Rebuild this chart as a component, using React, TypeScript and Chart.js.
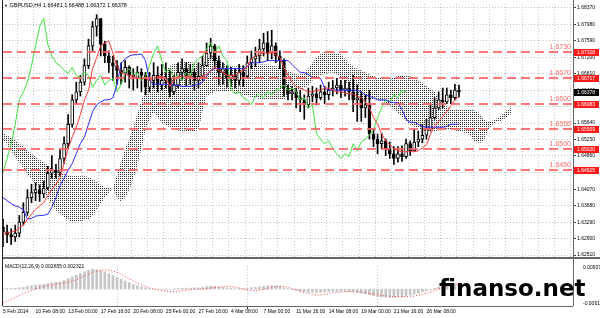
import React, { useEffect, useRef } from "react";
import { Chart, registerables } from "chart.js";

Chart.register(...registerables);

const FONT = "'Liberation Sans', Arial, sans-serif";

// ---- categories ----
const dateLabels = [
  "5 Feb 2014", "10 Feb 08:00", "13 Feb 00:00", "17 Feb 16:00", "20 Feb 08:00",
  "25 Feb 00:00", "27 Feb 16:00", "4 Mar 08:00", "7 Mar 00:00", "11 Mar 16:00",
  "14 Mar 08:00", "19 Mar 00:00", "21 Mar 16:00", "26 Mar 08:00",
];
const SLOT_COUNT = 141;
const LABEL_EVERY = 8;
const GRID_EVERY = 4;
const CHIKOU_SHIFT = 13;

// ---- price series (GBPUSD) ----
const firstOpen = 1.6317;
const closes = [
  1.6306, 1.6299, 1.6294, 1.6303, 1.6329, 1.6352, 1.6387, 1.6399, 1.6406, 1.6396,
  1.6410, 1.6445, 1.6452, 1.6447, 1.6480, 1.6515, 1.6561, 1.6619, 1.6638, 1.6661,
  1.6700, 1.6747, 1.6793, 1.6812, 1.6751, 1.6723, 1.6707, 1.6700, 1.6689, 1.6682,
  1.6696, 1.6677, 1.6672, 1.6684, 1.6677, 1.6649, 1.6665, 1.6677, 1.6654, 1.6665,
  1.6670, 1.6638, 1.6654, 1.6684, 1.6693, 1.6677, 1.6684, 1.6665, 1.6675, 1.6700,
  1.6730, 1.6747, 1.6712, 1.6684, 1.6693, 1.6670, 1.6677, 1.6665, 1.6684, 1.6675,
  1.6707, 1.6716, 1.6723, 1.6740, 1.6754, 1.6730, 1.6747, 1.6723, 1.6712, 1.6647,
  1.6633, 1.6638, 1.6624, 1.6619, 1.6607, 1.6628, 1.6633, 1.6624, 1.6638, 1.6631,
  1.6642, 1.6647, 1.6654, 1.6642, 1.6647, 1.6638, 1.6619, 1.6624, 1.6600, 1.6607,
  1.6538, 1.6526, 1.6515, 1.6522, 1.6503, 1.6491, 1.6480, 1.6491, 1.6484, 1.6515,
  1.6498, 1.6519, 1.6526, 1.6535, 1.6549, 1.6577, 1.6600, 1.6619, 1.6614, 1.6631,
  1.6624, 1.6642, 1.6638,
];
const highs = [
  1.6336, 1.6322, 1.6313, 1.6322, 1.6345, 1.6375, 1.6406, 1.6419, 1.6422, 1.6417,
  1.6426, 1.6461, 1.6487, 1.6466, 1.6503, 1.6531, 1.6584, 1.6631, 1.6661, 1.6677,
  1.6716, 1.6763, 1.6805, 1.6821, 1.6805, 1.6758, 1.6735, 1.6723, 1.6712, 1.6707,
  1.6712, 1.6700, 1.6693, 1.6698, 1.6693, 1.6684, 1.6684, 1.6707, 1.6698, 1.6703,
  1.6707, 1.6689, 1.6677, 1.6707, 1.6716, 1.6707, 1.6703, 1.6693, 1.6707, 1.6723,
  1.6754, 1.6765, 1.6751, 1.6723, 1.6707, 1.6700, 1.6696, 1.6693, 1.6703, 1.6700,
  1.6723, 1.6735, 1.6744, 1.6763, 1.6777, 1.6781, 1.6784, 1.6754, 1.6735, 1.6716,
  1.6654, 1.6651, 1.6647, 1.6642, 1.6631, 1.6647, 1.6651, 1.6647, 1.6654, 1.6651,
  1.6661, 1.6665, 1.6670, 1.6665, 1.6665, 1.6661, 1.6677, 1.6654, 1.6638, 1.6631,
  1.6642, 1.6549, 1.6538, 1.6540, 1.6526, 1.6519, 1.6508, 1.6508, 1.6510, 1.6526,
  1.6522, 1.6549, 1.6545, 1.6561, 1.6573, 1.6607, 1.6624, 1.6638, 1.6647, 1.6647,
  1.6642, 1.6656, 1.6654,
];
const lows = [
  1.6271, 1.6280, 1.6276, 1.6283, 1.6294, 1.6322, 1.6345, 1.6375, 1.6380, 1.6378,
  1.6387, 1.6406, 1.6433, 1.6433, 1.6438, 1.6468, 1.6503, 1.6554, 1.6610, 1.6628,
  1.6654, 1.6693, 1.6735, 1.6770, 1.6723, 1.6707, 1.6684, 1.6665, 1.6656, 1.6656,
  1.6661, 1.6647, 1.6642, 1.6647, 1.6638, 1.6631, 1.6638, 1.6647, 1.6638, 1.6642,
  1.6647, 1.6626, 1.6631, 1.6647, 1.6665, 1.6651, 1.6656, 1.6642, 1.6647, 1.6665,
  1.6698, 1.6716, 1.6693, 1.6654, 1.6656, 1.6649, 1.6651, 1.6647, 1.6654, 1.6651,
  1.6670, 1.6693, 1.6698, 1.6707, 1.6723, 1.6712, 1.6716, 1.6707, 1.6693, 1.6628,
  1.6619, 1.6619, 1.6600, 1.6591, 1.6573, 1.6600, 1.6614, 1.6607, 1.6619, 1.6610,
  1.6619, 1.6628, 1.6633, 1.6624, 1.6628, 1.6619, 1.6591, 1.6568, 1.6568, 1.6577,
  1.6526, 1.6508, 1.6491, 1.6503, 1.6487, 1.6480, 1.6466, 1.6471, 1.6473, 1.6480,
  1.6487, 1.6498, 1.6508, 1.6517, 1.6526, 1.6545, 1.6573, 1.6596, 1.6600, 1.6610,
  1.6610, 1.6619, 1.6626,
];

// ---- Ichimoku ----
const tenkan = [
  1.6301, 1.6303, 1.6306, 1.6308, 1.6315, 1.6322, 1.6336, 1.6348, 1.6359, 1.6368,
  1.6375, 1.6392, 1.6406, 1.6419, 1.6433, 1.6468, 1.6503, 1.6531, 1.6554, 1.6584,
  1.6619, 1.6642, 1.6693, 1.6719, 1.6747, 1.6754, 1.6758, 1.6730, 1.6698, 1.6684,
  1.6679, 1.6677, 1.6675, 1.6670, 1.6670, 1.6670, 1.6665, 1.6670, 1.6675, 1.6675,
  1.6670, 1.6651, 1.6665, 1.6675, 1.6675, 1.6675, 1.6675, 1.6670, 1.6670, 1.6675,
  1.6679, 1.6689, 1.6696, 1.6689, 1.6684, 1.6677, 1.6677, 1.6677, 1.6684, 1.6689,
  1.6698, 1.6716, 1.6723, 1.6728, 1.6730, 1.6730, 1.6730, 1.6726, 1.6719, 1.6696,
  1.6677, 1.6661, 1.6651, 1.6647, 1.6642, 1.6638, 1.6638, 1.6642, 1.6642, 1.6647,
  1.6647, 1.6642, 1.6638, 1.6638, 1.6635, 1.6633, 1.6633, 1.6628, 1.6624, 1.6614,
  1.6600, 1.6577, 1.6561, 1.6538, 1.6522, 1.6512, 1.6503, 1.6498, 1.6496, 1.6496,
  1.6496, 1.6496, 1.6498, 1.6505, 1.6512, 1.6538, 1.6556, 1.6568, 1.6580, 1.6591,
  1.6605, 1.6619, 1.6626,
];
const kijun = [
  1.6387, 1.6380, 1.6373, 1.6368, 1.6364, 1.6359, 1.6336, 1.6338, 1.6343, 1.6345,
  1.6345, 1.6348, 1.6364, 1.6387, 1.6415, 1.6433, 1.6452, 1.6468, 1.6491, 1.6515,
  1.6531, 1.6561, 1.6591, 1.6607, 1.6614, 1.6619, 1.6619, 1.6624, 1.6654, 1.6705,
  1.6716, 1.6723, 1.6726, 1.6726, 1.6728, 1.6712, 1.6665, 1.6656, 1.6656, 1.6656,
  1.6656, 1.6654, 1.6654, 1.6654, 1.6651, 1.6651, 1.6651, 1.6654, 1.6656, 1.6661,
  1.6675, 1.6689, 1.6693, 1.6693, 1.6693, 1.6693, 1.6693, 1.6693, 1.6693, 1.6693,
  1.6698, 1.6707, 1.6707, 1.6707, 1.6709, 1.6712, 1.6712, 1.6712, 1.6712, 1.6712,
  1.6712, 1.6703, 1.6693, 1.6684, 1.6684, 1.6679, 1.6672, 1.6672, 1.6670, 1.6647,
  1.6642, 1.6642, 1.6642, 1.6642, 1.6642, 1.6642, 1.6642, 1.6642, 1.6638, 1.6631,
  1.6628, 1.6624, 1.6619, 1.6619, 1.6619, 1.6614, 1.6612, 1.6612, 1.6596, 1.6573,
  1.6566, 1.6566, 1.6561, 1.6556, 1.6554, 1.6554, 1.6554, 1.6554, 1.6554, 1.6556,
  1.6561, 1.6561, 1.6561,
];
const spanA = [
  1.6542, 1.6535, 1.6529, 1.6522, 1.6515, 1.6508, 1.6498, 1.6491, 1.6484, 1.6477,
  1.6471, 1.6464, 1.6457, 1.6452, 1.6447, 1.6443, 1.6440, 1.6438, 1.6438, 1.6438,
  1.6438, 1.6436, 1.6431, 1.6424, 1.6417, 1.6412, 1.6410, 1.6408,
  1.6440, 1.6473, 1.6503, 1.6526, 1.6554, 1.6584, 1.6619, 1.6647, 1.6661, 1.6670,
  1.6677, 1.6684, 1.6689, 1.6698, 1.6705, 1.6707, 1.6709, 1.6712, 1.6709, 1.6707,
  1.6707,
  1.6707, 1.6716, 1.6723, 1.6723, 1.6716, 1.6707, 1.6700, 1.6698, 1.6698, 1.6698,
  1.6698, 1.6698, 1.6703, 1.6703, 1.6703, 1.6703, 1.6703, 1.6700, 1.6698, 1.6698,
  1.6693,
  1.6689, 1.6684, 1.6679, 1.6679, 1.6684, 1.6693, 1.6707, 1.6719, 1.6728, 1.6735,
  1.6735, 1.6733, 1.6730, 1.6726, 1.6716, 1.6705, 1.6698, 1.6693, 1.6689, 1.6684,
  1.6679, 1.6675, 1.6672, 1.6670, 1.6670, 1.6670, 1.6672, 1.6675, 1.6677, 1.6677,
  1.6675, 1.6670, 1.6665, 1.6658, 1.6651, 1.6645, 1.6638, 1.6624, 1.6612, 1.6603,
  1.6596, 1.6596, 1.6596, 1.6596, 1.6596, 1.6596, 1.6593, 1.6587, 1.6573, 1.6566,
  1.6568, 1.6573, 1.6580, 1.6587, 1.6596, 1.6600,
];
const spanB = [
  1.6526, 1.6512, 1.6498, 1.6484, 1.6471, 1.6457, 1.6443, 1.6431, 1.6419, 1.6410,
  1.6401, 1.6387, 1.6371, 1.6357, 1.6348, 1.6341, 1.6334, 1.6329, 1.6329, 1.6331,
  1.6334, 1.6336, 1.6345, 1.6359, 1.6373, 1.6387, 1.6399, 1.6408,
  1.6387, 1.6378, 1.6387, 1.6406, 1.6433, 1.6464, 1.6503, 1.6549, 1.6573, 1.6591,
  1.6577, 1.6566, 1.6559, 1.6554, 1.6549, 1.6547, 1.6542, 1.6542, 1.6542, 1.6545,
  1.6549,
  1.6591, 1.6628, 1.6633, 1.6638, 1.6638, 1.6638, 1.6638, 1.6638, 1.6635, 1.6633,
  1.6631, 1.6628, 1.6626, 1.6624, 1.6621, 1.6621, 1.6619, 1.6619, 1.6619, 1.6619,
  1.6619,
  1.6631, 1.6638, 1.6642, 1.6642, 1.6647, 1.6654, 1.6665, 1.6672, 1.6677, 1.6682,
  1.6684, 1.6684, 1.6679, 1.6670, 1.6661, 1.6651, 1.6638, 1.6626, 1.6619, 1.6619,
  1.6619, 1.6619, 1.6619, 1.6614, 1.6610, 1.6605, 1.6596, 1.6587, 1.6577, 1.6568,
  1.6561, 1.6556, 1.6552, 1.6547, 1.6542, 1.6542, 1.6545, 1.6547, 1.6549, 1.6549,
  1.6549, 1.6547, 1.6545, 1.6542, 1.6540, 1.6531, 1.6519, 1.6517, 1.6519, 1.6545,
  1.6559, 1.6566, 1.6568, 1.6573, 1.6580, 1.6587,
];

// ---- MACD(12,26,9) ----
const macdMain = [
  0.0003, 0.0004, 0.0004, 0.0005, 0.0006, 0.0008, 0.0012, 0.0015, 0.0018, 0.0020,
  0.0022, 0.0025, 0.0028, 0.0030, 0.0032, 0.0038, 0.0046, 0.0055, 0.0062, 0.0068,
  0.0076, 0.0083, 0.0088, 0.0086, 0.0082, 0.0076, 0.0068, 0.0060, 0.0052, 0.0044,
  0.0036, 0.0028, 0.0021, 0.0015, 0.0010, 0.0006, 0.0003, 0.0001, 0.0000, -0.0001,
  -0.0001, 0.0000, 0.0002, 0.0003, 0.0004, 0.0004, 0.0005, 0.0006, 0.0006, 0.0008,
  0.0012, 0.0014, 0.0013, 0.0010, 0.0008, 0.0006, 0.0004, 0.0002, 0.0002, 0.0002,
  0.0004, 0.0006, 0.0008, 0.0010, 0.0013, 0.0015, 0.0016, 0.0015, 0.0012, 0.0006,
  0.0002, -0.0002, -0.0006, -0.0009, -0.0012, -0.0013, -0.0014, -0.0014, -0.0013, -0.0012,
  -0.0011, -0.0010, -0.0009, -0.0009, -0.0009, -0.0010, -0.0012, -0.0015, -0.0018, -0.0021,
  -0.0025, -0.0029, -0.0032, -0.0034, -0.0035, -0.0036, -0.0036, -0.0035, -0.0033, -0.0030,
  -0.0026, -0.0022, -0.0017, -0.0012, -0.0006, -0.0001, 0.0004, 0.0009, 0.0013, 0.0017,
  0.0021, 0.0024, 0.0027,
];
const macdSignal = [
  -0.0060, -0.0052, -0.0044, -0.0036, -0.0028, -0.0020, -0.0012, -0.0005, 0.0001, 0.0007,
  0.0012, 0.0016, 0.0019, 0.0022, 0.0025, 0.0028, 0.0031, 0.0036, 0.0042, 0.0050,
  0.0058, 0.0066, 0.0073, 0.0079, 0.0083, 0.0085, 0.0084, 0.0080, 0.0074, 0.0066,
  0.0056, 0.0046, 0.0036, 0.0027, 0.0019, 0.0012, 0.0006, 0.0001, -0.0003, -0.0006,
  -0.0008, -0.0010, -0.0010, -0.0009, -0.0007, -0.0005, -0.0003, -0.0001, 0.0000, 0.0001,
  0.0003, 0.0005, 0.0007, 0.0009, 0.0011, 0.0013, 0.0012, 0.0009, 0.0005, 0.0001,
  -0.0003, -0.0006, -0.0006, -0.0004, -0.0001, 0.0003, 0.0007, 0.0011, 0.0013, 0.0012,
  0.0008, 0.0003, -0.0002, -0.0008, -0.0014, -0.0019, -0.0023, -0.0026, -0.0025, -0.0022,
  -0.0019, -0.0016, -0.0014, -0.0012, -0.0011, -0.0010, -0.0010, -0.0011, -0.0013, -0.0016,
  -0.0019, -0.0022, -0.0025, -0.0028, -0.0030, -0.0032, -0.0033, -0.0033, -0.0033, -0.0033,
  -0.0032, -0.0030, -0.0027, -0.0023, -0.0018, -0.0012, -0.0006, 0.0000, 0.0006, 0.0011,
  0.0016, 0.0020, 0.0023,
];

// ---- axis ticks & levels ----
const priceTicks = [
  1.6251, 1.629, 1.6329, 1.6368, 1.6407, 1.6446, 1.6486, 1.6525,
  1.6564, 1.6603, 1.6642, 1.6681, 1.672, 1.6759, 1.6798, 1.6837,
];
const priceMin = 1.62463;
const priceMax = 1.68463;
const macdTicks = [-0.006161, 0.009377];
const macdMin = -0.0074;
const macdMax = 0.0102;
const levelValues = [1.67328, 1.66717, 1.66083, 1.65509, 1.6502, 1.64525];
const levelLabels = ["1.6730", "1.6670", "1.6600", "1.6555", "1.6500", "1.6450"];
const lastPrice = 1.66378;
const titleText = "GBPUSD,H4 1.66481 1.66488 1.66372 1.66378";
const macdText = "MACD(12,26,9) 0.002655 0.002321";

function padTo<T>(arr: T[], n: number): (T | null)[] {
  const out: (T | null)[] = arr.slice();
  while (out.length < n) out.push(null);
  return out;
}

const categories: string[] = Array.from({ length: SLOT_COUNT }, (_, k) =>
  k % LABEL_EVERY === 0 && k / LABEL_EVERY < dateLabels.length ? dateLabels[k / LABEL_EVERY] : ""
);

const gridColor = (ctx: any) =>
  ctx.index % GRID_EVERY === 0 ? "#c4c4c4" : "rgba(0,0,0,0)";

const mainPlugin = {
  id: "mainPlugin",
  afterDatasetsDraw(chart: any) {
    const { ctx, chartArea: a, scales } = chart;
    const y = scales.y;
    ctx.save();
    levelValues.forEach((v, i) => {
      const py = Math.round(y.getPixelForValue(v));
      ctx.strokeStyle = "rgba(255,95,95,0.85)";
      ctx.lineWidth = 2;
      ctx.setLineDash([9, 5]);
      ctx.beginPath();
      ctx.moveTo(a.left, py);
      ctx.lineTo(a.right, py);
      ctx.stroke();
      ctx.setLineDash([]);
      ctx.fillStyle = "#ff6a6a";
      ctx.font = "7px " + FONT;
      ctx.textAlign = "right";
      ctx.textBaseline = "alphabetic";
      ctx.fillText(levelLabels[i], a.right - 2, py - 3);
    });
    ctx.restore();
  },
  afterDraw(chart: any) {
    const { ctx, chartArea: a, scales } = chart;
    const y = scales.y;
    ctx.save();
    ctx.strokeStyle = "#222";
    ctx.lineWidth = 1;
    ctx.beginPath();
    ctx.moveTo(a.left - 0.5, 0);
    ctx.lineTo(a.left - 0.5, chart.height);
    ctx.stroke();
    ctx.strokeStyle = "#666";
    ctx.beginPath();
    ctx.moveTo(a.right + 0.5, 0);
    ctx.lineTo(a.right + 0.5, chart.height);
    ctx.stroke();
    ctx.lineWidth = 2;
    ctx.beginPath();
    ctx.moveTo(a.left, a.bottom + 1);
    ctx.lineTo(chart.width, a.bottom + 1);
    ctx.stroke();
    ctx.font = "5px " + FONT;
    ctx.textAlign = "left";
    ctx.textBaseline = "middle";
    levelValues.forEach((v) => {
      const py = Math.round(y.getPixelForValue(v));
      ctx.fillStyle = "#ff1a1a";
      ctx.fillRect(a.right + 1, py - 3, 25, 7);
      ctx.fillStyle = "#fff";
      ctx.fillText(v.toFixed(5), a.right + 4, py + 0.5);
    });
    const lp = Math.round(y.getPixelForValue(lastPrice));
    ctx.fillStyle = "#000";
    ctx.fillRect(a.right + 1, lp - 3, 25, 7);
    ctx.fillStyle = "#fff";
    ctx.fillText(lastPrice.toFixed(5), a.right + 4, lp + 0.5);
    ctx.restore();
  },
};

const macdPlugin = {
  id: "macdPlugin",
  afterDraw(chart: any) {
    const { ctx, chartArea: a } = chart;
    ctx.save();
    ctx.strokeStyle = "#222";
    ctx.lineWidth = 1;
    ctx.beginPath();
    ctx.moveTo(a.left - 0.5, 0);
    ctx.lineTo(a.left - 0.5, a.bottom);
    ctx.stroke();
    ctx.strokeStyle = "#666";
    ctx.beginPath();
    ctx.moveTo(a.right + 0.5, 0);
    ctx.lineTo(a.right + 0.5, a.bottom);
    ctx.moveTo(a.left, a.bottom + 0.5);
    ctx.lineTo(a.right, a.bottom + 0.5);
    ctx.stroke();
    ctx.restore();
  },
};

export default function App() {
  const mainRef = useRef<HTMLCanvasElement>(null);
  const macdRef = useRef<HTMLCanvasElement>(null);

  useEffect(() => {
    Chart.defaults.font.family = FONT;
    Chart.defaults.font.size = 5;
    Chart.defaults.color = "#000";

    const mainCanvas = mainRef.current!;
    const mctx = mainCanvas.getContext("2d")!;
    const tile = document.createElement("canvas");
    tile.width = 2;
    tile.height = 2;
    const tctx = tile.getContext("2d")!;
    tctx.fillStyle = "#303030";
    tctx.fillRect(0, 0, 1, 1);
    const dots = mctx.createPattern(tile, "repeat");

    const opens = closes.map((c, k) => (k === 0 ? firstOpen : closes[k - 1]));
    const wicks = closes.map((c, k) => [
      Math.min(lows[k], opens[k], c),
      Math.max(highs[k], opens[k], c),
    ]);
    const bodies = closes.map((c, k) => {
      const o = opens[k];
      return Math.abs(c - o) < 0.00004 ? [o - 0.00002, o + 0.00002] : [o, c];
    });
    const bodyColors = closes.map((c, k) => (c >= opens[k] ? "#ffffff" : "#000000"));
    const chikou = closes.map((_, k) => (k + CHIKOU_SHIFT < closes.length ? closes[k + CHIKOU_SHIFT] : null));

    const lineBase = { type: "line", pointRadius: 0, borderWidth: 1, tension: 0, fill: false, spanGaps: false };

    const main = new Chart(mainCanvas, {
      type: "bar",
      data: {
        labels: categories,
        datasets: [
          { ...lineBase, label: "Senkou A", data: padTo(spanA, SLOT_COUNT), borderWidth: 0, borderColor: "rgba(0,0,0,0)", backgroundColor: dots, fill: "+1", order: 20 },
          { ...lineBase, label: "Senkou B", data: padTo(spanB, SLOT_COUNT), borderWidth: 0, borderColor: "rgba(0,0,0,0)", order: 21 },
          { type: "bar", label: "wick", data: padTo(wicks, SLOT_COUNT), backgroundColor: "#000", barThickness: 1, grouped: false, order: 10 },
          { type: "bar", label: "body", data: padTo(bodies, SLOT_COUNT), backgroundColor: padTo(bodyColors, SLOT_COUNT), borderColor: "#000", borderWidth: 1, borderSkipped: false, barThickness: 3, grouped: false, order: 9 },
          { ...lineBase, label: "Chikou", data: padTo(chikou, SLOT_COUNT), borderColor: "#3ee03e", order: 3 },
          { ...lineBase, label: "Kijun", data: padTo(kijun, SLOT_COUNT), borderColor: "#2a2aff", order: 2 },
          { ...lineBase, label: "Tenkan", data: padTo(tenkan, SLOT_COUNT), borderColor: "#ff3a3a", order: 1 },
        ] as any,
      },
      options: {
        responsive: false,
        animation: false,
        events: [],
        layout: { padding: { top: 2, left: 3, right: 0, bottom: 1 } },
        plugins: { legend: { display: false }, tooltip: { enabled: false } },
        scales: {
          x: {
            type: "category",
            offset: false,
            grid: { color: gridColor, drawTicks: false, lineWidth: 1 },
            border: { display: false, dash: [1, 2] },
            ticks: { display: false, autoSkip: false },
            afterFit: (s: any) => { s.height = 0; },
          },
          y: {
            position: "right",
            min: priceMin,
            max: priceMax,
            afterBuildTicks: (s: any) => { s.ticks = priceTicks.map((v) => ({ value: v })); },
            grid: { color: "#c4c4c4", drawTicks: true, tickLength: 3, tickColor: "#444", lineWidth: 1 },
            border: { display: false, dash: [1, 2] },
            ticks: { padding: 1, font: { size: 5 }, color: "#000", callback: (v: any) => Number(v).toFixed(5) },
            afterFit: (s: any) => { s.width = 27; },
          },
        },
      } as any,
      plugins: [mainPlugin],
    });

    const macd = new Chart(macdRef.current!, {
      type: "bar",
      data: {
        labels: categories,
        datasets: [
          { type: "line", label: "Signal", data: padTo(macdSignal, SLOT_COUNT), borderColor: "#ff4040", borderWidth: 1, borderDash: [1, 2], pointRadius: 0, fill: false, order: 1 },
          { type: "bar", label: "MACD", data: padTo(macdMain, SLOT_COUNT), backgroundColor: "#c6c6c6", barThickness: 2, grouped: false, order: 2 },
        ] as any,
      },
      options: {
        responsive: false,
        animation: false,
        events: [],
        layout: { padding: { top: 1, left: 3, right: 0, bottom: 0 } },
        plugins: { legend: { display: false }, tooltip: { enabled: false } },
        scales: {
          x: {
            type: "category",
            offset: false,
            grid: { color: gridColor, drawTicks: true, tickLength: 3, tickColor: (c: any) => (c.index % LABEL_EVERY === 0 ? "#333" : "rgba(0,0,0,0)") },
            border: { display: false, dash: [1, 2] },
            ticks: {
              autoSkip: false,
              maxRotation: 0,
              minRotation: 0,
              align: "start",
              padding: 0,
              font: { size: 5 },
              color: "#000",
              callback: (_v: any, i: number) => (categories[i] ? categories[i] : null),
            },
            afterFit: (s: any) => { s.height = 12; },
          },
          y: {
            position: "right",
            min: macdMin,
            max: macdMax,
            afterBuildTicks: (s: any) => { s.ticks = macdTicks.map((v) => ({ value: v })); },
            grid: { display: false },
            border: { display: false },
            ticks: { padding: 2, font: { size: 5 }, color: "#000", callback: (v: any) => Number(v).toFixed(6) },
            afterFit: (s: any) => { s.width = 27; },
          },
        },
      } as any,
      plugins: [macdPlugin],
    });

    return () => {
      main.destroy();
      macd.destroy();
    };
  }, []);

  return (
    <div style={{ position: "absolute", left: 0, top: 0, width: 600, height: 318, background: "#fff", overflow: "hidden" }}>
      <canvas ref={mainRef} width={600} height={261} style={{ position: "absolute", left: 0, top: 0 }} />
      <canvas ref={macdRef} width={600} height={57} style={{ position: "absolute", left: 0, top: 261 }} />
      <div style={{ position: "absolute", left: 4, top: 2, font: "5.5px " + FONT, color: "#000", whiteSpace: "nowrap", lineHeight: "7px" }}>
        <span style={{ fontSize: 4 }}>▼</span> {titleText}
      </div>
      <div style={{ position: "absolute", left: 5, top: 263, font: "5px " + FONT, color: "#000", whiteSpace: "nowrap", lineHeight: "6px" }}>
        {macdText}
      </div>
      <div style={{ position: "absolute", left: 439, top: 277, fontFamily: "'DejaVu Sans', sans-serif", fontWeight: "bold", fontSize: 23, lineHeight: "23px", color: "#000", whiteSpace: "nowrap" }}>
        finanso.net
      </div>
    </div>
  );
}
